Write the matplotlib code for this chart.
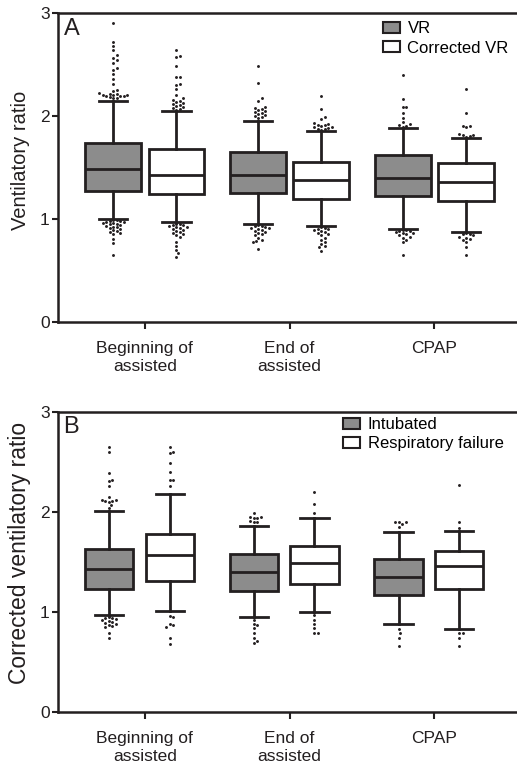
import matplotlib
matplotlib.use("Agg")
import matplotlib.pyplot as plt
from matplotlib.patches import Patch
import numpy as np

plt.rcParams['font.family'] = ['Liberation Sans', 'DejaVu Sans']

groups = ['Beginning of\nassisted', 'End of\nassisted', 'CPAP']

# panel A: VR vs corrected VR
vr_lo = [1.00, 0.95, 0.905]
vr_q1 = [1.27, 1.25, 1.22]
vr_med = [1.485, 1.43, 1.40]
vr_q3 = [1.74, 1.65, 1.62]
vr_hi = [2.15, 1.955, 1.883]
vr_fliers = [
    [2.907, 2.718, 2.68, 2.645, 2.596, 2.567, 2.54, 2.518, 2.466, 2.45, 2.405, 2.356, 2.314,
     2.25, 2.245, 2.22, 2.215, 2.21, 2.205, 2.20, 2.20, 2.195, 2.19, 2.19, 2.18, 2.175, 2.17,
     0.994, 0.99, 0.985, 0.98, 0.975, 0.97, 0.965, 0.96, 0.955, 0.95, 0.94, 0.93, 0.925, 0.92,
     0.91, 0.90, 0.89, 0.88, 0.87, 0.86, 0.855, 0.81, 0.767, 0.65],
    [2.486, 2.324, 2.175, 2.15, 2.09, 2.08, 2.07, 2.06, 2.05, 2.04, 2.03, 2.02, 2.01, 2.00, 1.99, 1.98,
     0.94, 0.935, 0.93, 0.92, 0.915, 0.91, 0.90, 0.89, 0.88, 0.87, 0.86, 0.85, 0.84, 0.82, 0.80,
     0.79, 0.78, 0.71],
    [2.395, 2.162, 2.088, 2.085, 2.03, 1.98, 1.94, 1.92, 1.91, 1.90, 1.89,
     0.895, 0.89, 0.885, 0.88, 0.87, 0.865, 0.86, 0.85, 0.84, 0.83, 0.82, 0.80, 0.78, 0.648],
]
cvr_lo = [0.968, 0.932, 0.874]
cvr_q1 = [1.24, 1.19, 1.175]
cvr_med = [1.43, 1.38, 1.36]
cvr_q3 = [1.68, 1.557, 1.54]
cvr_hi = [2.045, 1.858, 1.787]
cvr_fliers = [
    [2.638, 2.58, 2.575, 2.485, 2.38, 2.375, 2.31, 2.305, 2.26, 2.20, 2.17, 2.16, 2.15, 2.14,
     2.13, 2.12, 2.11, 2.10, 2.09, 2.08, 2.07, 2.06,
     0.955, 0.95, 0.945, 0.94, 0.93, 0.925, 0.92, 0.91, 0.90, 0.89, 0.88, 0.87, 0.86, 0.85,
     0.84, 0.83, 0.78, 0.74, 0.70, 0.67, 0.635],
    [2.19, 2.07, 1.99, 1.975, 1.93, 1.92, 1.915, 1.91, 1.90, 1.895, 1.89, 1.88, 1.875, 1.87, 1.865,
     0.92, 0.91, 0.905, 0.90, 0.89, 0.88, 0.87, 0.86, 0.85, 0.84, 0.82, 0.80, 0.78, 0.76, 0.74,
     0.73, 0.686],
    [2.26, 2.026, 1.905, 1.90, 1.895, 1.83, 1.82, 1.815, 1.81, 1.80,
     0.86, 0.855, 0.85, 0.84, 0.83, 0.82, 0.81, 0.80, 0.78, 0.73, 0.654],
]

# panel B: intubated vs respiratory failure
int_lo = [0.964, 0.944, 0.874]
int_q1 = [1.227, 1.21, 1.17]
int_med = [1.427, 1.397, 1.344]
int_q3 = [1.63, 1.573, 1.527]
int_hi = [2.01, 1.86, 1.80]
int_fliers = [
    [2.65, 2.594, 2.384, 2.32, 2.31, 2.257, 2.144, 2.12, 2.115, 2.11, 2.105, 2.10, 2.067, 2.034,
     0.95, 0.94, 0.935, 0.93, 0.92, 0.91, 0.90, 0.89, 0.88, 0.87, 0.86, 0.85, 0.784, 0.734],
    [1.984, 1.95, 1.945, 1.94, 1.935, 1.905, 1.90, 1.895,
     0.917, 0.877, 0.872, 0.834, 0.79, 0.734, 0.71, 0.684],
    [1.90, 1.90, 1.895, 1.874, 1.844,
     0.824, 0.79, 0.734, 0.657],
]
rf_lo = [1.004, 1.0, 0.824]
rf_q1 = [1.31, 1.28, 1.224]
rf_med = [1.564, 1.484, 1.46]
rf_q3 = [1.777, 1.657, 1.607]
rf_hi = [2.174, 1.94, 1.81]
rf_fliers = [
    [2.65, 2.60, 2.584, 2.49, 2.397, 2.32, 2.315, 2.26,
     0.96, 0.95, 0.88, 0.865, 0.85, 0.734, 0.674],
    [2.194, 2.077, 1.99,
     0.967, 0.917, 0.877, 0.834, 0.79, 0.79],
    [2.267, 1.90, 1.834,
     0.79, 0.79, 0.734, 0.657],
]

INK = '#231f20'
GRAY = '#8c8c8c'


def make_stats(lo, q1, med, q3, hi):
    return [dict(whislo=lo[i], q1=q1[i], med=med[i], q3=q3[i], whishi=hi[i], fliers=[])
            for i in range(len(med))]


def swarm(ax, xc, vals, lo, hi, d=3.5):
    # simple beeswarm in pixel space, nearest-to-whisker first
    vals = np.asarray(vals, float)
    dist = np.where(vals > hi, vals - hi, lo - vals)
    order = np.argsort(dist)
    placed = []
    out = []
    for v in vals[order]:
        px, py = ax.transData.transform((xc, v))
        k = 0
        found = None
        while found is None:
            cands = [0.0] if k == 0 else [k * d / 2, -k * d / 2]
            for off in cands:
                cx = px + off
                if all((cx - qx) ** 2 + (py - qy) ** 2 >= d * d for qx, qy in placed):
                    found = cx
                    break
            k += 1
        placed.append((found, py))
        out.append(ax.transData.inverted().transform((found, py)))
    out = np.array(out)
    ax.plot(out[:, 0], out[:, 1], 'o', ms=2.1, color=INK, mec='none', zorder=3)


def panel(ax, s1, s2, f1, f2, off1, off2, width, ylabel, letter, labels, leg_x, leg_y,
          ylab_size, ylab_x, ylab_y):
    x = np.arange(len(groups))
    ax.set_xlim(-0.6, 2.57)
    ax.set_ylim(0, 3)
    for stats, flr, off, fc in [(s1, f1, off1, GRAY), (s2, f2, off2, 'white')]:
        ax.bxp(stats, positions=x + off, widths=width, capwidths=0.195, patch_artist=True,
               showfliers=False, manage_ticks=False,
               boxprops=dict(facecolor=fc, edgecolor=INK, linewidth=2.0),
               medianprops=dict(color=INK, linewidth=2.0),
               whiskerprops=dict(color=INK, linewidth=2.0),
               capprops=dict(color=INK, linewidth=2.0))
        for i in range(len(groups)):
            swarm(ax, x[i] + off, flr[i], stats[i]['whislo'], stats[i]['whishi'])
    ax.set_xticks(x)
    ax.set_xticklabels(groups, fontsize=12.5, linespacing=1.25)
    ax.set_yticks([0, 1, 2, 3])
    ax.tick_params(axis='y', labelsize=12.5, length=4, width=1.5, pad=2, colors=INK)
    ax.tick_params(axis='x', length=5, width=1.5, pad=9, colors=INK)
    ax.spines['right'].set_visible(False)
    for sp in ['left', 'bottom', 'top']:
        ax.spines[sp].set_linewidth(1.8)
        ax.spines[sp].set_color(INK)
    ax.set_ylabel(ylabel, fontsize=ylab_size, color=INK)
    ax.yaxis.set_label_coords(ylab_x, ylab_y)
    ax.text(0.012, 0.985, letter, transform=ax.transAxes, fontsize=17, va='top', ha='left', color=INK)
    handles = [Patch(facecolor=GRAY, edgecolor=INK, linewidth=1.5, label=labels[0]),
               Patch(facecolor='white', edgecolor=INK, linewidth=1.5, label=labels[1])]
    ax.legend(handles=handles, loc='upper left', bbox_to_anchor=(leg_x, leg_y), frameon=False,
              fontsize=12, handlelength=1.0, handleheight=0.6, handletextpad=0.45,
              labelspacing=0.25, borderaxespad=0.2)


fig = plt.figure(figsize=(5.17, 7.67), dpi=100)
axA = fig.add_axes([58 / 517, 1 - 322 / 767, 1 - 58 / 517, 309 / 767])
axB = fig.add_axes([58 / 517, 1 - 711.7 / 767, 1 - 58 / 517, 300 / 767])

panel(axA, make_stats(vr_lo, vr_q1, vr_med, vr_q3, vr_hi),
      make_stats(cvr_lo, cvr_q1, cvr_med, cvr_q3, cvr_hi),
      vr_fliers, cvr_fliers, -0.218, 0.218, 0.385,
      'Ventilatory ratio', 'A', ['VR', 'Corrected VR'], 0.687, 1.005, 14.5, -0.062, 0.524)
panel(axB, make_stats(int_lo, int_q1, int_med, int_q3, int_hi),
      make_stats(rf_lo, rf_q1, rf_med, rf_q3, rf_hi),
      int_fliers, rf_fliers, -0.248, 0.171, 0.333,
      'Corrected ventilatory ratio', 'B', ['Intubated', 'Respiratory failure'], 0.60, 1.015,
      16.5, -0.058, 0.53)

fig.savefig('out.png', dpi=100)
